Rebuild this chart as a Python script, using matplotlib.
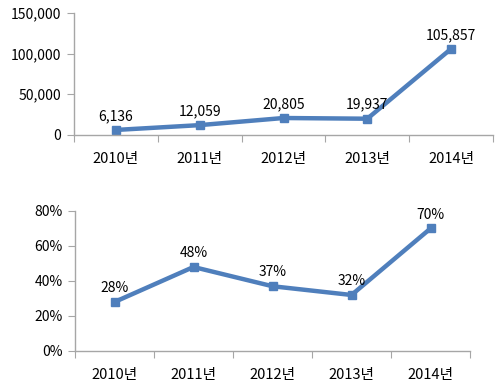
import numpy as np
import matplotlib.pyplot as plt
from matplotlib.ticker import FuncFormatter

plt.rcParams['font.family'] = ['Noto Sans CJK KR', 'DejaVu Sans']

years = ['2010년', '2011년', '2012년', '2013년', '2014년']
counts = [6136, 12059, 20805, 19937, 105857]
ratios = [28, 48, 37, 32, 70]

line_color = '#4F7FBC'
axis_color = '#A6A6A6'
fs = 10


def style_axis(ax):
    for side in ['top', 'right']:
        ax.spines[side].set_visible(False)
    for side in ['left', 'bottom']:
        ax.spines[side].set_color(axis_color)
        ax.spines[side].set_linewidth(1.0)
    n = len(years)
    ax.set_xlim(-0.5, n - 0.5)
    # tick marks between categories, labels at the centers
    ax.set_xticks(np.arange(n + 1) - 0.5)
    ax.set_xticklabels([])
    ax.set_xticks(np.arange(n), minor=True)
    ax.set_xticklabels(years, minor=True, fontsize=10.5)
    ax.tick_params(axis='x', which='major', length=5, color=axis_color)
    ax.tick_params(axis='x', which='minor', length=0, pad=12)
    ax.tick_params(axis='y', length=5, color=axis_color, labelsize=fs, pad=4)


fig = plt.figure(figsize=(5, 3.9), dpi=100)

# top chart: counts
ax1 = fig.add_axes([0.148, 0.654, 0.838, 0.313])
x = np.arange(len(years))
ax1.plot(x, counts, color=line_color, lw=3.2, marker='s', ms=6)
ax1.set_ylim(0, 150000)
ax1.set_yticks([0, 50000, 100000, 150000])
ax1.yaxis.set_major_formatter(FuncFormatter(lambda v, p: f'{int(v):,}'))
style_axis(ax1)
for xi, v in zip(x, counts):
    ax1.annotate(f'{v:,}', (xi, v), xytext=(0, 5), textcoords='offset points',
                 ha='center', va='bottom', fontsize=fs)

# bottom chart: ratios
ax2 = fig.add_axes([0.15, 0.10, 0.79, 0.359])
ax2.plot(x, ratios, color=line_color, lw=3.2, marker='s', ms=6)
ax2.set_ylim(0, 80)
ax2.set_yticks([0, 20, 40, 60, 80])
ax2.yaxis.set_major_formatter(FuncFormatter(lambda v, p: f'{int(v)}%'))
style_axis(ax2)
for xi, v in zip(x, ratios):
    ax2.annotate(f'{v}%', (xi, v), xytext=(0, 5), textcoords='offset points',
                 ha='center', va='bottom', fontsize=fs)

fig.savefig('out.png', dpi=100, facecolor='white')
